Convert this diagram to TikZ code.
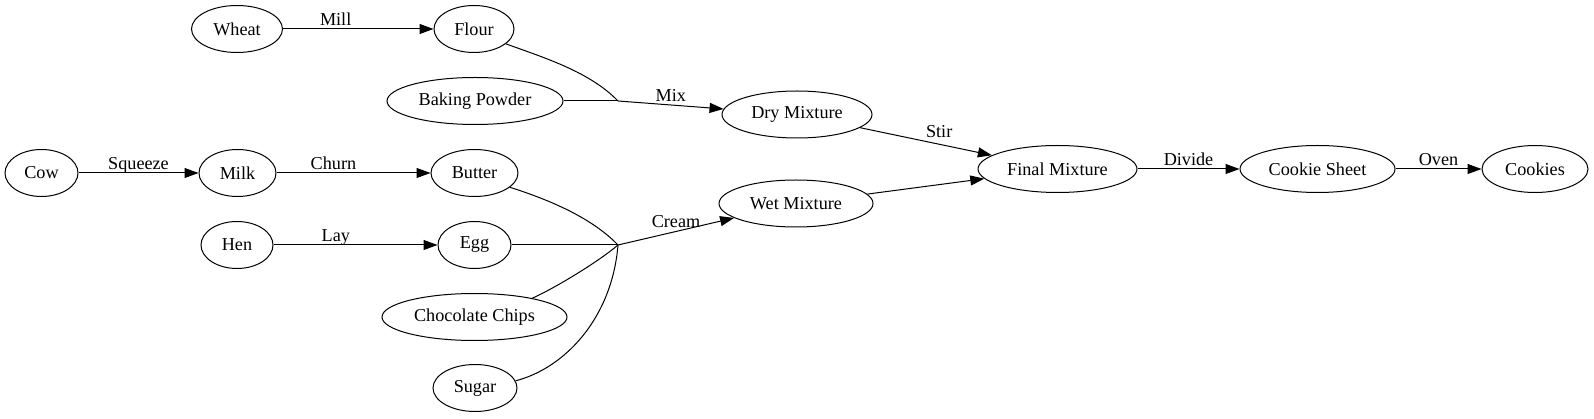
\documentclass[tikz,border=0pt]{standalone}
\usepackage{fontspec}
\setmainfont{Liberation Serif}
\newfontfamily\stagefont{Liberation Serif}
\usetikzlibrary{arrows.meta,shapes.geometric}

\begin{document}
\begin{tikzpicture}[x=1pt, y=-1pt,
	every node/.style={font=\stagefont\fontsize{18.2pt}{21pt}\selectfont},
	stage/.style={draw, ellipse, line width=1pt, inner sep=0pt, minimum height=47pt},
	flow/.style={line width=1pt, -{Triangle[length=14pt,width=10pt]}},
	feed/.style={line width=1pt},
	lbl/.style={inner sep=1pt, text depth=0.22em}]
		%%%%% START %%%%%
		
		\useasboundingbox (0, 0) rectangle (1594, 419);
		
		\node[stage, minimum width=91pt] (wheat) at (237, 29) {Wheat};
		\node[stage, minimum width=80pt] (flour) at (474, 29) {Flour};
		\node[stage, minimum width=176pt] (baking) at (475, 101) {Baking Powder};
		\node[stage, minimum width=73pt] (cow) at (41.5, 173) {Cow};
		\node[stage, minimum width=77pt] (milk) at (237.5, 173) {Milk};
		\node[stage, minimum width=87pt] (butter) at (474.5, 173) {Butter};
		\node[stage, minimum width=72pt] (hen) at (237, 245) {Hen};
		\node[stage, minimum width=73pt] (egg) at (474.5, 245) {Egg};
		\node[stage, minimum width=185pt] (chips) at (474.5, 317) {Chocolate Chips};
		\node[stage, minimum width=84pt] (sugar) at (475, 388) {Sugar};
		
		\coordinate (mixpt) at (618, 101);
		\coordinate (creampt) at (618, 245);
		
		\node[stage, minimum width=150pt] (drymix) at (797, 114.5) {Dry Mixture};
		\node[stage, minimum width=154pt] (wetmix) at (796, 203.5) {Wet Mixture};
		\node[stage, minimum width=159pt] (final) at (1057.5, 169) {Final Mixture};
		\node[stage, minimum width=155pt] (sheet) at (1317.5, 169) {Cookie Sheet};
		\node[stage, minimum width=106pt] (cookies) at (1535, 169) {Cookies};
		
		\draw[flow] (wheat) -- node[lbl, above, pos=0.35] {Mill} (flour);
		\draw[flow] (cow) -- node[lbl, above] {Squeeze} (milk);
		\draw[flow] (milk) -- node[lbl, above, pos=0.37] {Churn} (butter);
		\draw[flow] (hen) -- node[lbl, above, pos=0.38] {Lay} (egg);
		
		\draw[feed] (flour.-25) .. controls (545, 58) and (590, 72) .. (mixpt);
		\draw[feed] (baking) -- (mixpt);
		\draw[flow] (mixpt) -- node[lbl, above] {Mix} (drymix);
		
		\draw[feed] (butter.-22) .. controls (550, 200) and (592, 218) .. (creampt);
		\draw[feed] (egg) -- (creampt);
		\draw[feed] (chips.18) .. controls (555, 288) and (598, 262) .. (creampt);
		\draw[feed] (sugar.10) .. controls (565, 368) and (612, 318) .. (creampt);
		\draw[flow] (creampt) -- node[lbl, above] {Cream} (wetmix);
		
		\draw[flow] (drymix) -- node[lbl, above=3pt, pos=0.6] {Stir} (final);
		\draw[flow] (wetmix) -- (final);
		\draw[flow] (final) -- node[lbl, above] {Divide} (sheet);
		\draw[flow] (sheet) -- node[lbl, above] {Oven} (cookies);
		
		%%%%% END %%%%%
	\end{tikzpicture}
\end{document}
